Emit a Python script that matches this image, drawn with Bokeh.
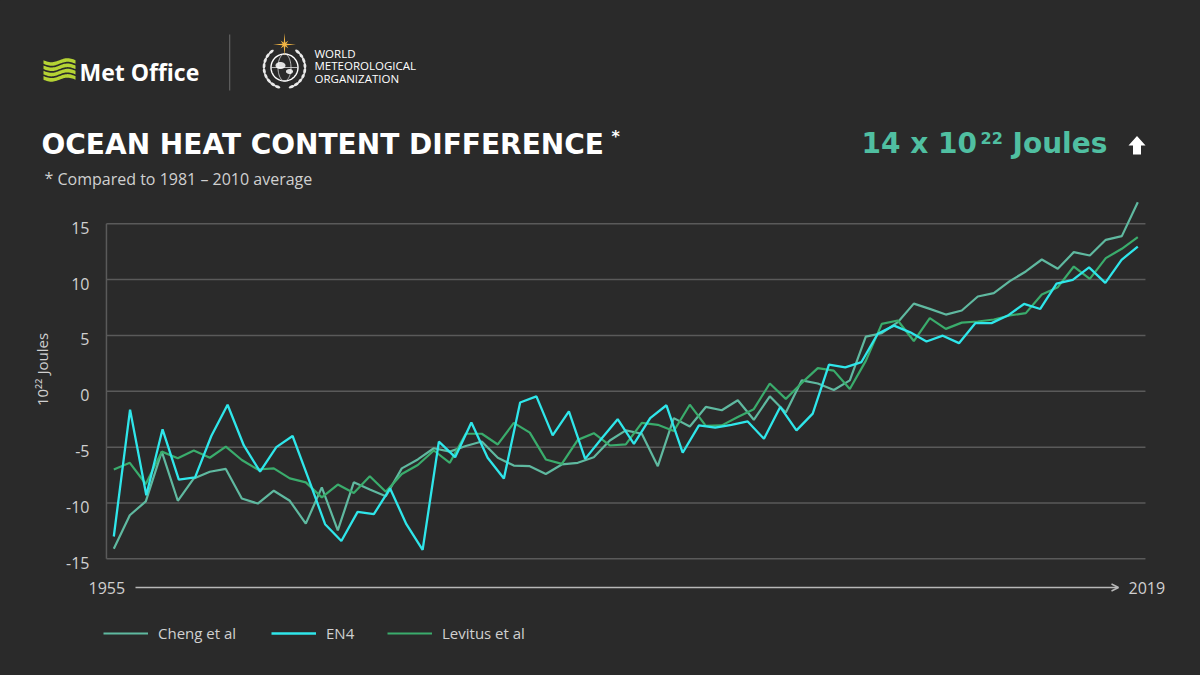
import numpy as np
from bokeh.plotting import figure
from bokeh.models import (Range1d, Label, LabelSet, ColumnDataSource, Legend, LegendItem,
                          Arrow, OpenHead, PolyAnnotation)
from bokeh.core.properties import value
from bokeh.embed import file_html
from bokeh.resources import INLINE

# ---------------- data ----------------
years = list(range(1955, 2020))
cheng = [-14.1, -11.1, -9.85, -5.4, -9.8, -7.8, -7.2, -6.95, -9.6, -10.05,
         -8.9, -9.8, -11.85, -8.6, -12.45, -8.15, -8.8, -9.4, -6.9, -6.1,
         -5.1, -5.4, -4.9, -4.5, -5.95, -6.65, -6.7, -7.4, -6.55, -6.4,
         -5.9, -4.4, -3.5, -3.8, -6.7, -2.4, -3.15, -1.4, -1.7, -0.8,
         -2.55, -0.45, -1.9, 0.98, 0.7, 0.12, 0.98, 4.9, 5.2, 6.19,
         7.85, 7.38, 6.87, 7.23, 8.49, 8.79, 9.86, 10.73, 11.8, 10.97,
         12.46, 12.16, 13.56, 13.89, 16.93]
levitus = [-7.0, -6.4, -8.3, -5.4, -6.0, -5.3, -5.95, -4.95, -6.15, -7.0,
           -6.9, -7.8, -8.15, -9.5, -8.35, -9.1, -7.6, -9.0, -7.4, -6.6,
           -5.3, -6.4, -3.8, -3.8, -4.76, -2.83, -3.7, -6.1, -6.5, -4.35,
           -3.75, -4.85, -4.76, -2.83, -3.0, -3.55, -1.2, -3.1, -3.05, -2.3,
           -1.6, 0.7, -0.68, 0.75, 2.07, 1.85, 0.2, 2.72, 6.04, 6.34,
           4.5, 6.55, 5.59, 6.15, 6.25, 6.43, 6.79, 7.0, 8.67, 9.32,
           11.17, 10.07, 11.92, 12.76, 13.8]
en4 = [-13.0, -1.64, -9.3, -3.4, -7.9, -7.7, -4.0, -1.2, -4.85, -7.2,
       -5.0, -4.0, -7.9, -11.9, -13.4, -10.8, -11.0, -8.7, -11.9, -14.2,
       -4.5, -5.9, -2.8, -5.95, -7.8, -1.0, -0.45, -3.95, -1.8, -6.05,
       -4.25, -2.5, -4.7, -2.4, -1.25, -5.5, -3.05, -3.25, -3.0, -2.7,
       -4.25, -1.4, -3.5, -2.0, 2.38, 2.15, 2.62, 5.15, 5.88, 5.28,
       4.46, 4.98, 4.31, 6.1, 6.1, 6.78, 7.82, 7.37, 9.65, 9.97,
       11.1, 9.71, 11.77, 12.96]
# EN4 is drawn across the same span as the other two series
en4_years = list(np.linspace(years[0], years[-1], len(en4)))

series_names = ["Cheng et al", "EN4", "Levitus et al"]
y_ticks = [-15, -10, -5, 0, 5, 10, 15]
y_tick_labels = ["-15", "-10", "-5", "0", "5", "10", "15"]
x_labels = ["1955", "2019"]

title_text = "OCEAN HEAT CONTENT DIFFERENCE"
subtitle_text = "Compared to 1981 \u2013 2010 average"
headline = ["14 x 10", "22", "Joules"]
y_axis_label = "10\u00b2\u00b2 Joules"

# ---------------- layout / style ----------------
BG = "#2a2a2a"
GRID = "#5a5a5a"
TXT = "#d0d0d0"
C_CHENG = "#5fb9a0"
C_EN4 = "#2fe6ea"
C_LEV = "#3aac6c"
C_HEAD = "#50bfa1"

W, H = 1200, 675
PX_YEAR = 16.0
PX_UNIT = 11.17
X0_REF = 113.3   # page x of first year
Y0_REF = 390.8   # page y of value 0


def sx(x):
    return x


def sy(y):
    return H - y


x_start = years[0] - X0_REF / PX_YEAR
y_end = Y0_REF / PX_UNIT

p = figure(width=W, height=H, output_backend="svg", toolbar_location=None,
           x_range=Range1d(x_start, x_start + W / PX_YEAR),
           y_range=Range1d(y_end - H / PX_UNIT, y_end),
           x_axis_location=None, y_axis_location=None, min_border=0)
p.background_fill_color = BG
p.border_fill_color = BG
p.outline_line_color = None
p.grid.visible = False

try:
    from bokeh.models import GlobalInlineStyleSheet
    p.stylesheets = [GlobalInlineStyleSheet(css="html, body { background-color: #2a2a2a; }")]
except Exception:
    pass

# grid lines and left rule
g0 = years[0] - 0.46
g1 = years[-1] + 0.48
p.segment(x0=[g0] * len(y_ticks), x1=[g1] * len(y_ticks), y0=y_ticks, y1=y_ticks,
          line_color=GRID, line_width=1.5)
p.segment(x0=[g0], x1=[g0], y0=[y_ticks[0]], y1=[y_ticks[-1]], line_color=GRID, line_width=1.5)

# series
r_cheng = p.line(years, cheng, line_color=C_CHENG, line_width=2.2)
r_lev = p.line(years, levitus, line_color=C_LEV, line_width=2.2)
r_en4 = p.line(en4_years, en4, line_color=C_EN4, line_width=2.3)

# y tick labels
tick_src = ColumnDataSource(dict(y=y_ticks, text=y_tick_labels))
p.add_layout(LabelSet(x=sx(89), y="y", x_units="screen", y_units="data", text="text",
                      source=tick_src, text_align="right", text_baseline="middle", y_offset=-4,
                      text_font=value("Open Sans"), text_font_size="16px", text_color=TXT))


def label(x, y, text, font="Open Sans", size="16px", color=TXT, bold=False, **kw):
    p.add_layout(Label(x=sx(x), y=sy(y), x_units="screen", y_units="screen", text=text,
                       text_font=font, text_font_size=size, text_color=color,
                       text_font_style="bold" if bold else "normal",
                       text_baseline=kw.pop("text_baseline", "middle"), **kw))


# y axis title (rotated)
label(41, 369, y_axis_label, size="15px", angle=np.pi / 2, text_align="center")

# x axis: arrow and end labels
p.add_layout(Arrow(x_start=sx(135), y_start=sy(587), x_end=sx(1118), y_end=sy(587),
                   start_units="screen", end_units="screen", line_color="#b8b8b8", line_width=1.5,
                   end=OpenHead(size=7, line_color="#b8b8b8", line_width=1.5)))
label(88, 587, x_labels[0])
label(1128, 587, x_labels[1])

# legend: one entry per series, placed like the original
for name, rend, lx in zip(series_names, [r_cheng, r_en4, r_lev], [103, 271, 387]):
    p.add_layout(Legend(items=[LegendItem(label=name, renderers=[rend])],
                        location=(sx(lx), H - 643), orientation="horizontal",
                        glyph_width=45, glyph_height=20, label_height=20, label_standoff=10,
                        padding=0, margin=0, border_line_alpha=0,
                        background_fill_alpha=0, label_text_font="Open Sans",
                        label_text_font_size="15px", label_text_color=TXT))

# titles
label(41, 143.5, title_text, font="DejaVu Sans", size="28px", color="white", bold=True)
label(611, 135.5, "*", font="DejaVu Sans", size="16px", color="white", bold=True)
label(44, 177, "*", size="16px")
label(57, 178, subtitle_text, size="16px")

# headline figure
label(861, 142.5, headline[0], font="DejaVu Sans", size="28px", color=C_HEAD, bold=True)
label(980, 137.5, headline[1], font="DejaVu Sans", size="16px", color=C_HEAD, bold=True)
label(1012, 142.5, headline[2], font="DejaVu Sans", size="28px", color=C_HEAD, bold=True)


def poly(xs, ys, fill, alpha=1.0, line=None, lw=1.0):
    p.add_layout(PolyAnnotation(xs=[sx(v) for v in xs], ys=[sy(v) for v in ys],
                                xs_units="screen", ys_units="screen",
                                fill_color=fill if fill else "white",
                                fill_alpha=alpha if fill else 0.0,
                                line_color=line, line_width=lw,
                                line_alpha=1.0 if line else 0.0))


# up arrow next to headline
poly([1136.5, 1145, 1140.5, 1140.5, 1132.5, 1132.5, 1128],
     [135.5, 145, 145, 154, 154, 145, 145], "white")

# Met Office wave mark
for k in range(4):
    xt = np.linspace(43, 75, 30)
    yc = 61.5 + 5.3 * k + 2.0 * np.sin((xt - 43) / 32 * 2 * np.pi)
    poly(list(xt) + list(xt[::-1]), list(yc - 1.8) + list((yc + 1.8)[::-1]), "#b5d334")
label(79, 71.5, "Met Office", size="23px", color="white", bold=True)

# divider
poly([228.5, 229.8, 229.8, 228.5], [34, 34, 90, 90], "#5c5c5c")

# WMO emblem
cx, cy = 284.0, 67.0
t = np.linspace(0, 2 * np.pi, 60)
poly(list(cx + 13.5 * np.cos(t)), list(cy + 13.5 * np.sin(t)), None, line="white", lw=1.4)
poly(list(cx + 6.5 * np.cos(t)), list(cy + 13.5 * np.sin(t)), None, line="#dddddd", lw=0.8)
poly([cx - 13.5, cx + 13.5], [cy, cy], None, line="#dddddd", lw=0.8)
poly(list(cx - 4 + 5 * np.cos(t)), list(cy - 2 + 3.5 * np.sin(t)), "white", alpha=0.85)
poly(list(cx + 5 + 3.5 * np.cos(t)), list(cy + 4 + 2.5 * np.sin(t)), "white", alpha=0.85)
u = np.linspace(0, 2 * np.pi, 14)
for side, angs in ((-1, np.radians(np.linspace(250, 130, 9))),
                   (1, np.radians(np.linspace(-70, 50, 9)))):
    for a in angs:
        px_, py_ = cx + 20.5 * np.cos(a), cy - 20.5 * np.sin(a)
        tx, ty = -np.sin(a), -np.cos(a)
        nx, ny = np.cos(a), -np.sin(a)
        lx = px_ + 3.0 * np.cos(u) * tx + 1.4 * np.sin(u) * nx
        ly = py_ + 3.0 * np.cos(u) * ty + 1.4 * np.sin(u) * ny
        poly(list(lx), list(ly), "white", alpha=0.9)
k = np.arange(16)
rad = np.where(k % 4 == 0, 11.5, np.where(k % 4 == 2, 5.5, 2.0))
ang = np.radians(90 - k * 22.5)
poly(list(284 + rad * np.cos(ang)), list(44 - rad * np.sin(ang)), "#f2b544")
for i, w in enumerate(["WORLD", "METEOROLOGICAL", "ORGANIZATION"]):
    label(314, 52.5 + 12.5 * i, w, size="11.5px", color="white")

open("out.html", "w").write(file_html(p, INLINE))
